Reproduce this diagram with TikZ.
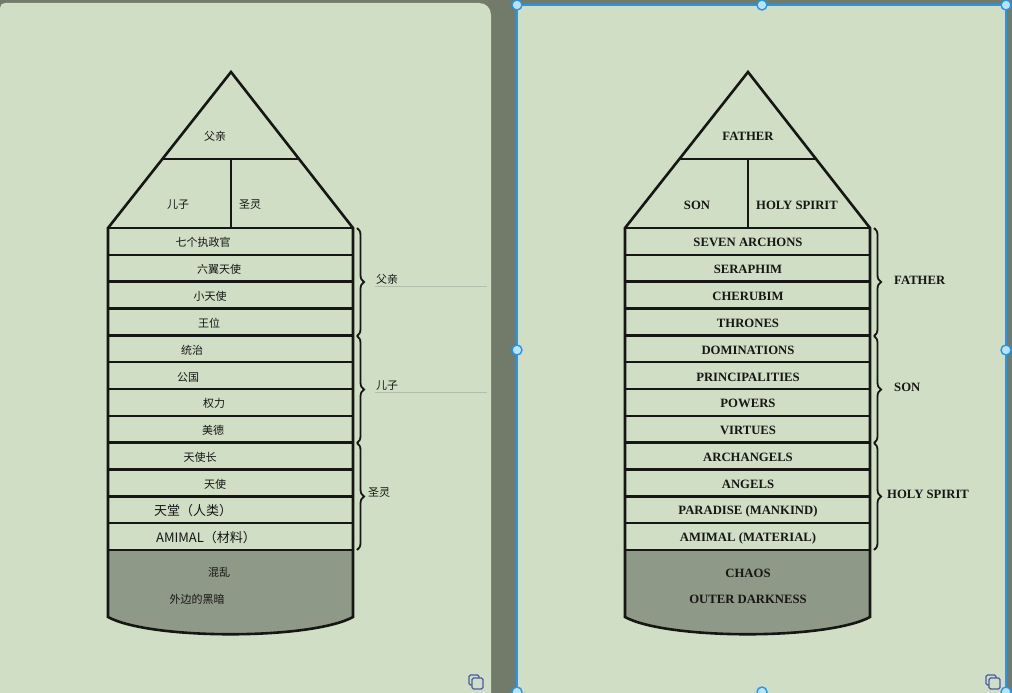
\documentclass[tikz,border=0pt]{standalone}
\usepackage{fontspec}
\setmainfont{Liberation Serif}
\newfontfamily\cjk{Noto Sans CJK SC}
\usetikzlibrary{decorations.pathreplacing}
\definecolor{bgdark}{RGB}{114,122,106}
\definecolor{card}{RGB}{207,222,197}
\definecolor{abyss}{RGB}{143,153,136}
\definecolor{ink}{RGB}{22,22,20}
\definecolor{selblue}{RGB}{33,150,243}
\definecolor{handlefill}{RGB}{187,226,255}
\definecolor{iconblue}{RGB}{72,92,165}
\definecolor{faint}{RGB}{178,190,172}
\newcommand\towershape{%
  \fill[abyss] (108,550) -- (108,617) .. controls (150,640) and (311,640) .. (353,617) -- (353,550) -- cycle;
  \draw[frame] (108,550) -- (108,617) .. controls (150,640) and (311,640) .. (353,617) -- (353,550);
  \draw[frame] (108,550) -- (108,228) -- (231,72) -- (353,228) -- (353,550);
  \draw[frame] (108,228) -- (353,228);
  \foreach \i in {1,...,12} {\draw[frame] (108,228+\i*26.833) -- (353,228+\i*26.833);}
  \draw[frame] (162.4,159) -- (299.4,159);
  \draw[frame] (231,159) -- (231,228);
  \draw[brace] (357,228) -- (357,336);
  \draw[brace] (357,336) -- (357,443);
  \draw[brace] (357,443) -- (357,550);
}
\begin{document}
\begin{tikzpicture}[x=1pt,y=-1pt,
  frame/.style={line width=2.6pt, draw=ink, line join=miter},
  brace/.style={decorate, decoration={brace, amplitude=7pt}, line width=1.8pt, draw=ink},
  cn/.style={font=\cjk\fontsize{11}{13}\selectfont, text=ink, inner sep=0pt},
  cnbig/.style={font=\cjk\fontsize{13}{15}\selectfont, text=ink, inner sep=0pt},
  en/.style={font=\bfseries\fontsize{12.7}{14}\selectfont, text=ink, inner sep=0pt},
  handle/.style={fill=handlefill, draw=selblue, line width=1.4pt},
  icon/.style={draw=iconblue, line width=1.1pt, rounded corners=1.5pt}]
\useasboundingbox (0,0) rectangle (1012,693);
\fill[bgdark] (0,0) rectangle (1012,693);
% left card
\fill[card] (0,720) -- (0,8) .. controls (0,5) and (2,3) .. (5,3) -- (479,3) .. controls (486,3) and (491,8) .. (491,15) -- (491,720) -- cycle;
% right card
\fill[card] (517,5) rectangle (1007,720);

% left tower
\towershape
\draw[faint, line width=0.7pt] (375,286) -- (487,286);
\draw[faint, line width=0.7pt] (375,392) -- (487,392);
\node[cn] (lfather) at (215,136) {父亲};
\node[cn] (lson) at (178,205) {儿子};
\node[cn] (lspirit) at (250,205) {圣灵};
\node[cn] (l1) at (203,242) {七个执政官};
\node[cn] (l2) at (219,269) {六翼天使};
\node[cn] (l3) at (210,296) {小天使};
\node[cn] (l4) at (209,323) {王位};
\node[cn] (l5) at (192,350) {统治};
\node[cn] (l6) at (188,377) {公国};
\node[cn] (l7) at (214,403) {权力};
\node[cn] (l8) at (213,430) {美德};
\node[cn] (l9) at (200,457) {天使长};
\node[cn] (l10) at (215,484) {天使};
\node[cnbig] (l11) at (193,511) {天堂（人类）};
\node[cnbig] (l12) at (206,538) {AMIMAL（材料）};
\node[cn] (l13) at (219,572) {混乱};
\node[cn] (l14) at (197,599) {外边的黑暗};
\node[cn, anchor=west] (lbf) at (376,279) {父亲};
\node[cn, anchor=west] (lbs) at (376,386) {儿子};
\node[cn, anchor=west] (lbh) at (368,493) {圣灵};
\draw[icon] (469,675) rectangle (479,685);
\fill[card] (472,678) rectangle (483,689);
\draw[icon] (472,678) rectangle (483,689);

% right tower
\begin{scope}[xshift=517pt]
\towershape
\end{scope}
\node[en] (rfather) at (748,136) {FATHER};
\node[en] (rson) at (697,205) {SON};
\node[en] (rspirit) at (797,205) {HOLY SPIRIT};
\node[en] (r1) at (748,242) {SEVEN ARCHONS};
\node[en] (r2) at (748,269) {SERAPHIM};
\node[en] (r3) at (748,296) {CHERUBIM};
\node[en] (r4) at (748,323) {THRONES};
\node[en] (r5) at (748,350) {DOMINATIONS};
\node[en] (r6) at (748,377) {PRINCIPALITIES};
\node[en] (r7) at (748,403) {POWERS};
\node[en] (r8) at (748,430) {VIRTUES};
\node[en] (r9) at (748,457) {ARCHANGELS};
\node[en] (r10) at (748,484) {ANGELS};
\node[en] (r11) at (748,511) {PARADISE (MANKIND)};
\node[en] (r12) at (748,538) {AMIMAL (MATERIAL)};
\node[en] (r13) at (748,573) {CHAOS};
\node[en] (r14) at (748,599) {OUTER DARKNESS};
\node[en, anchor=west] (rbf) at (894,280) {FATHER};
\node[en, anchor=west] (rbs) at (894,387) {SON};
\node[en, anchor=west] (rbh) at (887,494) {HOLY SPIRIT};
\draw[icon] (986,675) rectangle (996,685);
\fill[card] (989,678) rectangle (1000,689);
\draw[icon] (989,678) rectangle (1000,689);

% selection frame
\draw[selblue, line width=2pt] (517,720) -- (517,5) -- (1006,5) -- (1006,720);
\foreach \hx/\hy in {517/5, 762/5, 1006/5, 517/350, 1006/350, 517/692, 762/692, 1006/692}
  {\draw[handle] (\hx,\hy) circle[radius=5];}
\end{tikzpicture}
\end{document}
